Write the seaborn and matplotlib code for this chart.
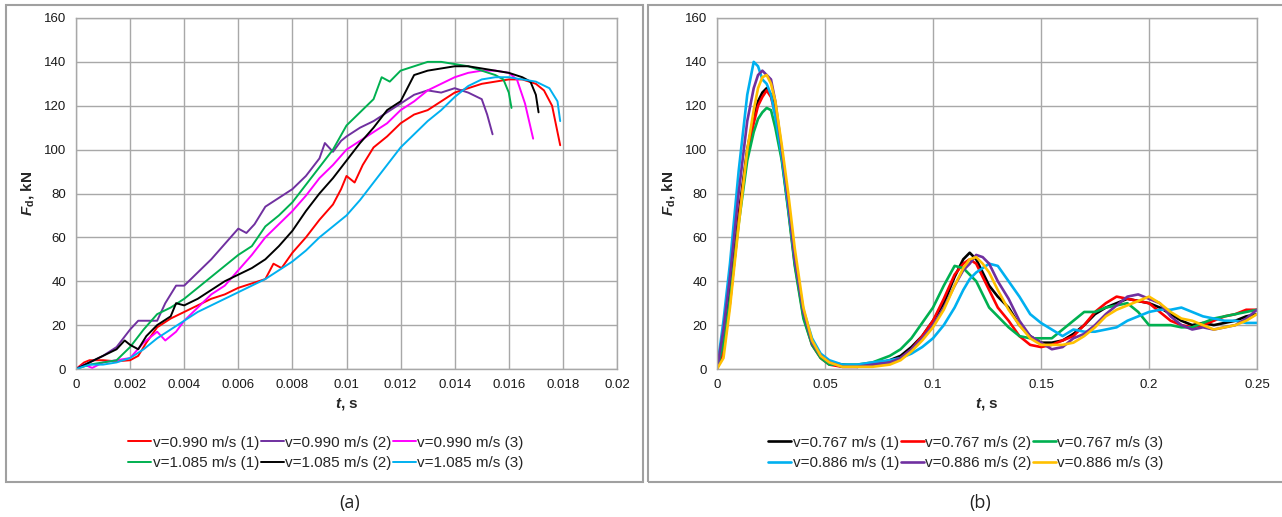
import matplotlib
matplotlib.use("Agg")
import matplotlib.pyplot as plt
from matplotlib.patches import Rectangle
import seaborn as sns
import pandas as pd

# ---- panel (a): drop force vs time, first contact ----
a_labels = ["v=0.990 m/s (1)", "v=0.990 m/s (2)", "v=0.990 m/s (3)",
            "v=1.085 m/s (1)", "v=1.085 m/s (2)", "v=1.085 m/s (3)"]
a_colors = ["#FF0000", "#7030A0", "#FF00FF", "#00B050", "#000000", "#00B0F0"]

a1_t = [0, 0.0003, 0.0005, 0.001, 0.0015, 0.002, 0.0023, 0.0026, 0.003, 0.0035, 0.004, 0.0045,
        0.005, 0.0055, 0.006, 0.0065, 0.007, 0.0073, 0.0076, 0.008, 0.0085, 0.009, 0.0095, 0.0098,
        0.010, 0.0103, 0.0106, 0.011, 0.0115, 0.012, 0.0125, 0.013, 0.0135, 0.014, 0.0145, 0.015,
        0.0155, 0.016, 0.0165, 0.017, 0.0173, 0.0176, 0.0179]
a1_f = [0, 3, 4, 4, 3.5, 4, 6, 12, 19, 23, 26, 29, 32, 34, 37, 39, 41, 48, 46, 53, 60, 68, 75, 82,
        88, 85, 93, 101, 106, 112, 116, 118, 122, 126, 128, 130, 131, 132, 132, 130, 127, 120, 102]

a2_t = [0, 0.0005, 0.001, 0.0015, 0.002, 0.0023, 0.0026, 0.003, 0.0033, 0.0037, 0.004, 0.0045,
        0.005, 0.0055, 0.006, 0.0063, 0.0066, 0.007, 0.0075, 0.008, 0.0085, 0.009, 0.0092, 0.0095,
        0.0098, 0.010, 0.0105, 0.011, 0.0115, 0.012, 0.0125, 0.013, 0.0135, 0.014, 0.0145, 0.015,
        0.0152, 0.0154]
a2_f = [0, 3, 6, 10, 18, 22, 22, 22, 30, 38, 38, 44, 50, 57, 64, 62, 66, 74, 78, 82, 88, 96, 103,
        99, 104, 106, 110, 113, 117, 121, 125, 127, 126, 128, 126, 123, 116, 107]

a3_t = [0, 0.0003, 0.0006, 0.001, 0.0015, 0.002, 0.0025, 0.003, 0.0033, 0.0037, 0.004, 0.0045,
        0.005, 0.0055, 0.006, 0.0065, 0.007, 0.0075, 0.008, 0.0085, 0.009, 0.0095, 0.010, 0.0105,
        0.011, 0.0115, 0.012, 0.0125, 0.013, 0.0135, 0.014, 0.0145, 0.015, 0.0155, 0.016, 0.0163,
        0.0166, 0.0169]
a3_f = [0, 2, 0.5, 3, 4, 5, 12, 17, 13, 17, 22, 28, 34, 38, 45, 52, 60, 66, 72, 79, 87, 93, 100,
        104, 108, 112, 118, 122, 127, 130, 133, 135, 136, 136, 135, 132, 121, 105]

a4_t = [0, 0.0005, 0.001, 0.0015, 0.002, 0.0025, 0.003, 0.0035, 0.004, 0.0045, 0.005, 0.0055,
        0.006, 0.0065, 0.007, 0.0075, 0.008, 0.0085, 0.009, 0.0095, 0.010, 0.0105, 0.011, 0.0113,
        0.0116, 0.012, 0.0125, 0.013, 0.0135, 0.014, 0.0145, 0.015, 0.0155, 0.0158, 0.016, 0.0161]
a4_f = [0, 2, 3, 4, 10, 18, 25, 28, 32, 37, 42, 47, 52, 56, 65, 70, 76, 84, 92, 100, 111, 117,
        123, 133, 131, 136, 138, 140, 140, 139, 138, 136, 134, 132, 126, 119]

a5_t = [0, 0.0005, 0.001, 0.0015, 0.0018, 0.002, 0.0023, 0.0026, 0.003, 0.0035, 0.0037, 0.004,
        0.0045, 0.005, 0.0055, 0.006, 0.0065, 0.007, 0.0075, 0.008, 0.0085, 0.009, 0.0095, 0.010,
        0.0105, 0.011, 0.0115, 0.012, 0.0125, 0.013, 0.0135, 0.014, 0.0145, 0.015, 0.0155, 0.016,
        0.0165, 0.0168, 0.017, 0.0171]
a5_f = [0, 3, 6, 9, 13, 11, 9, 15, 20, 24, 30, 29, 32, 36, 40, 43, 46, 50, 56, 63, 72, 80, 87, 95,
        103, 110, 118, 122, 134, 136, 137, 138, 138, 137, 136, 135, 133, 131, 125, 117]

a6_t = [0, 0.0005, 0.001, 0.0015, 0.002, 0.0025, 0.003, 0.0035, 0.004, 0.0045, 0.005, 0.0055,
        0.006, 0.0065, 0.007, 0.0075, 0.008, 0.0085, 0.009, 0.0095, 0.010, 0.0105, 0.011, 0.0115,
        0.012, 0.0125, 0.013, 0.0135, 0.014, 0.0145, 0.015, 0.0155, 0.016, 0.0165, 0.017, 0.0175,
        0.0178, 0.0179]
a6_f = [0, 2, 2, 3, 5, 9, 14, 18, 22, 26, 29, 32, 35, 38, 41, 45, 49, 54, 60, 65, 70, 77, 85, 93,
        101, 107, 113, 118, 124, 129, 132, 133, 133, 132, 131, 128, 122, 113]

# ---- panel (b): full record with rebounds ----
b_labels = ["v=0.767 m/s (1)", "v=0.767 m/s (2)", "v=0.767 m/s (3)",
            "v=0.886 m/s (1)", "v=0.886 m/s (2)", "v=0.886 m/s (3)"]
b_colors = ["#000000", "#FF0000", "#00B050", "#00B0F0", "#7030A0", "#FFC000"]

b_t = [0, 0.003, 0.006, 0.01, 0.014, 0.017, 0.019, 0.021, 0.023, 0.025, 0.027, 0.03, 0.033,
       0.036, 0.04, 0.044, 0.048, 0.052, 0.058, 0.065, 0.072, 0.08, 0.085, 0.09, 0.095, 0.1,
       0.105, 0.11, 0.114, 0.117, 0.12, 0.123, 0.126, 0.13, 0.135, 0.14, 0.145, 0.15, 0.155,
       0.16, 0.165, 0.17, 0.175, 0.18, 0.185, 0.19, 0.195, 0.2, 0.205, 0.21, 0.215, 0.22, 0.225,
       0.23, 0.235, 0.24, 0.245, 0.25]
b1_f = [0, 15, 35, 70, 100, 115, 122, 126, 128, 125, 118, 98, 75, 50, 25, 12, 6, 3, 2, 1, 2, 4,
        6, 10, 15, 22, 30, 42, 50, 53, 50, 44, 38, 33, 28, 20, 15, 12, 12, 13, 16, 20, 25, 28, 30,
        32, 31, 30, 28, 25, 22, 20, 21, 20, 21, 22, 24, 25]
b2_f = [0, 8, 30, 68, 98, 112, 120, 124, 127, 124, 116, 96, 73, 48, 24, 11, 5, 2, 1, 1, 2, 3,
        5, 9, 15, 22, 32, 43, 48, 50, 48, 42, 36, 28, 22, 15, 11, 10, 11, 13, 15, 20, 26, 30, 33,
        32, 31, 30, 26, 22, 20, 19, 20, 22, 24, 25, 27, 27]
b3_f = [0, 12, 32, 66, 95, 108, 114, 117, 119, 118, 110, 95, 72, 47, 23, 11, 5, 2, 2, 2, 3, 6,
        9, 14, 21, 28, 38, 47, 46, 43, 40, 34, 28, 24, 19, 15, 14, 14, 14, 18, 22, 26, 26, 28, 29,
        30, 26, 20, 20, 20, 19, 19, 21, 23, 24, 25, 26, 27]
b4_f = [0, 22, 48, 90, 125, 140, 138, 132, 130, 125, 115, 97, 74, 50, 27, 14, 7, 4, 2, 2, 3, 4,
        5, 7, 10, 14, 20, 28, 36, 41, 44, 46, 48, 47, 40, 33, 25, 21, 18, 15, 18, 17, 17, 18, 19,
        22, 24, 26, 27, 27, 28, 26, 24, 23, 22, 22, 21, 21]
b5_f = [0, 18, 42, 80, 113, 128, 134, 136, 134, 132, 122, 100, 76, 50, 26, 12, 6, 3, 1, 1, 2,
        3, 5, 9, 14, 20, 28, 38, 45, 48, 52, 51, 48, 40, 32, 22, 15, 12, 9, 10, 14, 16, 20, 25,
        29, 33, 34, 32, 30, 24, 20, 18, 19, 18, 19, 20, 23, 27]
b6_f = [0, 5, 28, 65, 100, 118, 128, 133, 134, 130, 122, 102, 80, 55, 28, 13, 6, 3, 1, 1, 1, 2,
        4, 8, 13, 19, 27, 38, 46, 50, 51, 48, 44, 36, 27, 20, 14, 11, 11, 11, 12, 15, 19, 24, 27,
        29, 31, 33, 30, 26, 23, 22, 20, 18, 19, 20, 22, 25]

a_t = [a1_t, a2_t, a3_t, a4_t, a5_t, a6_t]
a_f = [a1_f, a2_f, a3_f, a4_f, a5_f, a6_f]
b_f = [b1_f, b2_f, b3_f, b4_f, b5_f, b6_f]

rows_a = [(t, f, lab) for ts, fs, lab in zip(a_t, a_f, a_labels) for t, f in zip(ts, fs)]
df_a = pd.DataFrame(rows_a, columns=["t", "F", "run"])
rows_b = [(t, f, lab) for fs, lab in zip(b_f, b_labels) for t, f in zip(b_t, fs)]
df_b = pd.DataFrame(rows_b, columns=["t", "F", "run"])

sns.set_style("white")
plt.rcParams["font.family"] = ["Liberation Sans", "DejaVu Sans"]
plt.rcParams["mathtext.fontset"] = "custom"
plt.rcParams["mathtext.it"] = "Liberation Sans:italic:bold"
plt.rcParams["mathtext.rm"] = "Liberation Sans:bold"

W, H = 1282, 517
fig = plt.figure(figsize=(W / 100, H / 100), dpi=100)

grid_c = "#A8A8A8"


def px_axes(x0, x1, y0, y1):
    return fig.add_axes([x0 / W, 1 - y1 / H, (x1 - x0) / W, (y1 - y0) / H])


def style_axes(ax, xmax, xticks, xticklabels):
    ax.set_xlim(0, xmax)
    ax.set_ylim(0, 160)
    ax.set_xticks(xticks)
    ax.set_xticklabels(xticklabels)
    ax.set_yticks(range(0, 161, 20))
    ax.grid(True, color=grid_c, linewidth=1.0)
    ax.set_axisbelow(True)
    for s in ax.spines.values():
        s.set_color(grid_c)
        s.set_linewidth(1.0)
    ax.tick_params(axis="both", direction="out", length=4, width=1, color=grid_c,
                   labelsize=9.5, pad=3, labelcolor="#1a1a1a")
    ax.set_xlabel(r"$t$, s", fontsize=11, fontweight="bold", labelpad=4)
    ax.set_ylabel(r"$F_{\mathrm{d}}$, kN", fontsize=11, fontweight="bold", labelpad=6)


def legend_below(ax, cx):
    # row-wise order: (1) (2) (3) on each row
    lines = ax.get_lines()
    order = [0, 3, 1, 4, 2, 5]
    hs = [lines[i] for i in order]
    ls = [lines[i].get_label() for i in order]
    fig.legend(hs, ls, loc="center", bbox_to_anchor=(cx / W, 1 - 453 / H), ncol=3,
               frameon=False, fontsize=11, handlelength=1.5, handletextpad=0.1,
               columnspacing=0.1, labelspacing=0.45, borderpad=0)


ax1 = px_axes(76, 617, 18, 369)
sns.lineplot(data=df_a, x="t", y="F", hue="run", hue_order=a_labels,
             palette=dict(zip(a_labels, a_colors)), sort=False, estimator=None,
             linewidth=1.4, legend=False, ax=ax1)
for ln, lab in zip(ax1.get_lines(), a_labels):
    ln.set_label(lab)
xt_a = [0, 0.002, 0.004, 0.006, 0.008, 0.01, 0.012, 0.014, 0.016, 0.018, 0.02]
style_axes(ax1, 0.02, xt_a, ["0", "0.002", "0.004", "0.006", "0.008", "0.01", "0.012",
                             "0.014", "0.016", "0.018", "0.02"])
legend_below(ax1, 326)

ax2 = px_axes(717, 1257, 18, 369)
sns.lineplot(data=df_b, x="t", y="F", hue="run", hue_order=b_labels,
             palette=dict(zip(b_labels, b_colors)), sort=False, estimator=None,
             linewidth=1.9, legend=False, ax=ax2)
for ln, lab in zip(ax2.get_lines(), b_labels):
    ln.set_label(lab)
xt_b = [0, 0.05, 0.1, 0.15, 0.2, 0.25]
style_axes(ax2, 0.25, xt_b, ["0", "0.05", "0.1", "0.15", "0.2", "0.25"])
legend_below(ax2, 966)

# panel frames
for x0, x1 in [(6, 643), (648, 1292)]:
    fig.patches.append(Rectangle((x0 / W, 1 - 482 / H), (x1 - x0) / W, (482 - 5) / H,
                                 transform=fig.transFigure, fill=False,
                                 edgecolor="#A0A0A0", linewidth=1.5))

fig.text(350 / W, 1 - 503 / H, "(a)", ha="center", va="center", fontsize=13,
         family=["Open Sans", "DejaVu Sans"], color="#222222")
fig.text(980 / W, 1 - 503 / H, "(b)", ha="center", va="center", fontsize=13,
         family=["Open Sans", "DejaVu Sans"], color="#222222")

fig.savefig("out.png", dpi=100)
